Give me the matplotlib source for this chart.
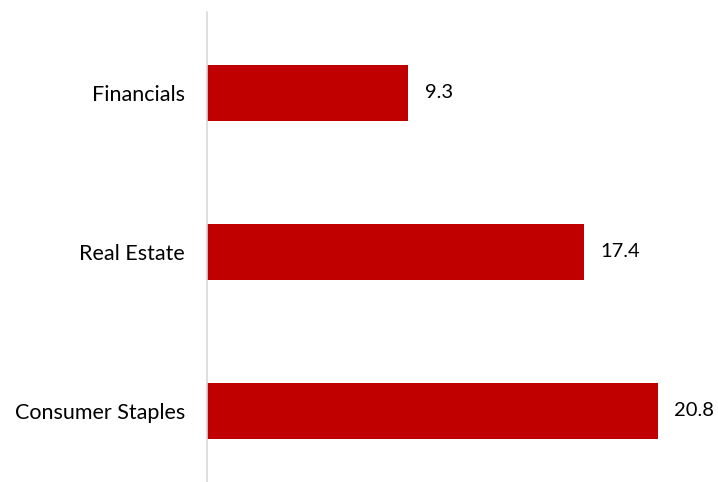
import matplotlib
matplotlib.use("Agg")
import matplotlib.pyplot as plt

categories = ["Consumer Staples", "Real Estate", "Financials"]
values = [20.8, 17.4, 9.3]
bar_color = "#C00000"

plt.rcParams['font.family'] = ['Lato', 'DejaVu Sans']

fig = plt.figure(figsize=(7.18, 4.82), dpi=100)
W, H = 718, 482
left, right = 207, 716
bottom, top = 0, 470
ax = fig.add_axes([left / W, bottom / H, (right - left) / W, (top - bottom) / H])

y = list(range(len(categories)))
ax.barh(y, values, height=0.35, color=bar_color)
for yi, v in zip(y, values):
    ax.annotate(f"{v:.1f}", xy=(v, yi), xytext=(12, 0), textcoords="offset points",
                va="center", ha="left", fontsize=14.5, color="#000000")

ax.set_xlim(0, 23.5)
ax.set_ylim(-0.447, 2.509)
ax.set_yticks(y)
ax.set_yticklabels(categories, fontsize=15.5)
ax.tick_params(axis="y", length=0, pad=16)
ax.set_xticks([])
for s in ["top", "right", "bottom"]:
    ax.spines[s].set_visible(False)
ax.spines["left"].set_color("#D9D9D9")
ax.spines["left"].set_linewidth(1.2)

fig.savefig("out.png", dpi=100)
